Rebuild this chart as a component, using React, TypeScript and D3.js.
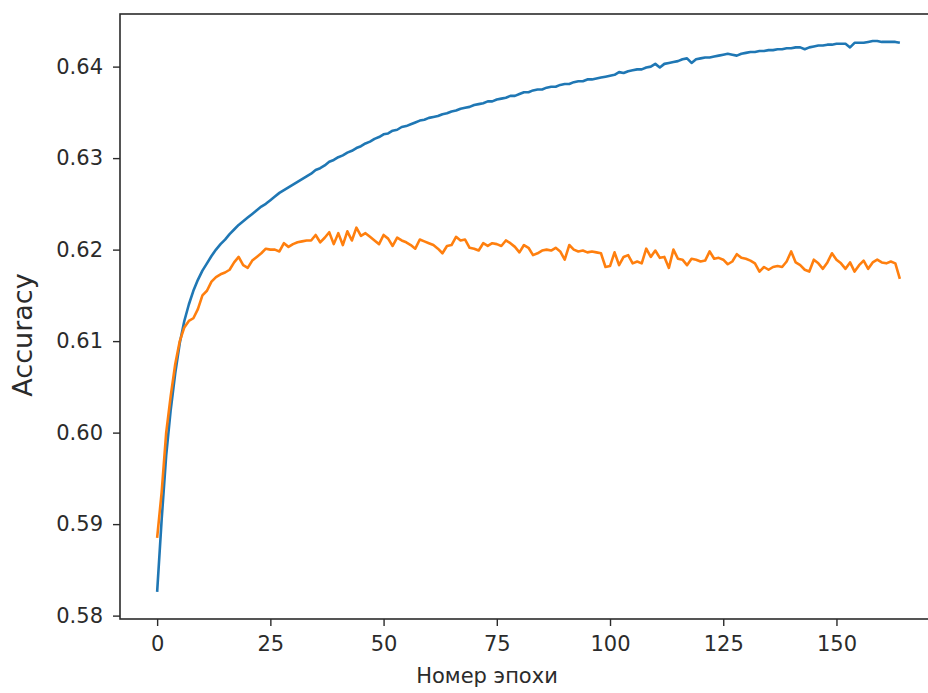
import React, { useEffect, useRef } from 'react';
import * as d3 from 'd3';

// accuracy per epoch (0..164)
const trainAcc = [
  0.5826, 0.5905, 0.5975, 0.6025, 0.6065, 0.6098, 0.6122, 0.6140, 0.6155, 0.6167,
  0.6177, 0.6185, 0.6193, 0.6200, 0.6206, 0.6211, 0.6217, 0.6222, 0.6227, 0.6231,
  0.6235, 0.6239, 0.6243, 0.6247, 0.6250, 0.6254, 0.6258, 0.6262, 0.6265, 0.6268,
  0.6271, 0.6274, 0.6277, 0.6280, 0.6283, 0.6287, 0.6289, 0.6292, 0.6296, 0.6298,
  0.6301, 0.6303, 0.6306, 0.6308, 0.6311, 0.6313, 0.6316, 0.6318, 0.6321, 0.6323,
  0.6326, 0.6327, 0.6330, 0.6331, 0.6334, 0.6335, 0.6337, 0.6339, 0.6341, 0.6342,
  0.6344, 0.6345, 0.6346, 0.6348, 0.6349, 0.6351, 0.6352, 0.6354, 0.6355, 0.6356,
  0.6358, 0.6359, 0.6360, 0.6362, 0.6362, 0.6364, 0.6365, 0.6366, 0.6368, 0.6368,
  0.6370, 0.6372, 0.6372, 0.6374, 0.6375, 0.6375, 0.6377, 0.6378, 0.6378, 0.6380,
  0.6381, 0.6381, 0.6383, 0.6384, 0.6384, 0.6386, 0.6386, 0.6387, 0.6388, 0.6389,
  0.6390, 0.6391, 0.6394, 0.6393, 0.6395, 0.6396, 0.6397, 0.6397, 0.6399, 0.6400,
  0.6403, 0.6399, 0.6403, 0.6404, 0.6405, 0.6406, 0.6408, 0.6409, 0.6404, 0.6408,
  0.6409, 0.6410, 0.6410, 0.6411, 0.6412, 0.6413, 0.6414, 0.6413, 0.6412, 0.6414,
  0.6415, 0.6416, 0.6416, 0.6417, 0.6417, 0.6418, 0.6418, 0.6419, 0.6419, 0.6420,
  0.6420, 0.6421, 0.6421, 0.6419, 0.6421, 0.6422, 0.6423, 0.6423, 0.6424, 0.6424,
  0.6425, 0.6425, 0.6425, 0.6421, 0.6426, 0.6426, 0.6426, 0.6427, 0.6428, 0.6428,
  0.6427, 0.6427, 0.6427, 0.6427, 0.6426
];

const valAcc = [
  0.5885, 0.5935, 0.6000, 0.6040, 0.6075, 0.6100, 0.6115, 0.6122, 0.6125, 0.6135,
  0.6150, 0.6155, 0.6165, 0.6170, 0.6173, 0.6175, 0.6178, 0.6186, 0.6192, 0.6183,
  0.6180, 0.6188, 0.6192, 0.6196, 0.6201, 0.6200, 0.6200, 0.6198, 0.6207, 0.6203,
  0.6206, 0.6208, 0.6209, 0.6210, 0.6210, 0.6216, 0.6208, 0.6213, 0.6219, 0.6206,
  0.6218, 0.6205, 0.6220, 0.6210, 0.6224, 0.6215, 0.6218, 0.6214, 0.6210, 0.6206,
  0.6216, 0.6212, 0.6204, 0.6213, 0.6210, 0.6208, 0.6205, 0.6201, 0.6211, 0.6209,
  0.6207, 0.6205, 0.6201, 0.6196, 0.6204, 0.6205, 0.6214, 0.6210, 0.6211, 0.6202,
  0.6201, 0.6199, 0.6207, 0.6204, 0.6207, 0.6206, 0.6204, 0.6210, 0.6207, 0.6203,
  0.6197, 0.6205, 0.6202, 0.6194, 0.6196, 0.6199, 0.6200, 0.6199, 0.6202, 0.6198,
  0.6189, 0.6205, 0.6200, 0.6198, 0.6199, 0.6197, 0.6198, 0.6197, 0.6196, 0.6181,
  0.6182, 0.6197, 0.6183, 0.6192, 0.6194, 0.6185, 0.6187, 0.6185, 0.6201, 0.6192,
  0.6199, 0.6191, 0.6192, 0.6180, 0.6200, 0.6190, 0.6189, 0.6183, 0.6190, 0.6189,
  0.6187, 0.6188, 0.6198, 0.6190, 0.6191, 0.6189, 0.6184, 0.6187, 0.6195, 0.6191,
  0.6190, 0.6188, 0.6185, 0.6176, 0.6181, 0.6178, 0.6181, 0.6182, 0.6181, 0.6187,
  0.6198, 0.6186, 0.6183, 0.6178, 0.6176, 0.6189, 0.6185, 0.6179, 0.6186, 0.6196,
  0.6189, 0.6185, 0.6179, 0.6186, 0.6176, 0.6183, 0.6188, 0.6179, 0.6186, 0.6189,
  0.6186, 0.6185, 0.6187, 0.6185, 0.6168
];

const xTicks = [0, 25, 50, 75, 100, 125, 150];
const yTicks = [0.58, 0.59, 0.6, 0.61, 0.62, 0.63, 0.64];

const W = 928;
const H = 693;
const font = '"DejaVu Sans", sans-serif';
const ink = '#2b2b2b';

const App = () => {
  const svgRef = useRef<SVGSVGElement>(null);

  useEffect(() => {
    const svg = d3.select(svgRef.current);
    svg.selectAll('*').remove();

    const left = 120, right = 937, top = 14, bottom = 619;

    const x = d3.scaleLinear().domain([-8.2, 172.2]).range([left, right]);
    const y = d3.scaleLinear().domain([0.57963, 0.64575]).range([bottom, top]);

    const line = d3.line<number>()
      .x((d, i) => x(i))
      .y(d => y(d));

    svg.append('path')
      .datum(trainAcc)
      .attr('d', line)
      .attr('fill', 'none')
      .attr('stroke', '#1f77b4')
      .attr('stroke-width', 2.6)
      .attr('stroke-linejoin', 'round');

    svg.append('path')
      .datum(valAcc)
      .attr('d', line)
      .attr('fill', 'none')
      .attr('stroke', '#ff7f0e')
      .attr('stroke-width', 2.6)
      .attr('stroke-linejoin', 'round');

    // frame
    svg.append('rect')
      .attr('x', left)
      .attr('y', top)
      .attr('width', right - left)
      .attr('height', bottom - top)
      .attr('fill', 'none')
      .attr('stroke', ink)
      .attr('stroke-width', 1.6);

    const xAxis = svg.append('g')
      .attr('transform', `translate(0,${bottom})`)
      .call(d3.axisBottom(x).tickValues(xTicks).tickSize(7).tickPadding(10).tickFormat(d3.format('d')));
    xAxis.select('.domain').remove();

    const yAxis = svg.append('g')
      .attr('transform', `translate(${left},0)`)
      .call(d3.axisLeft(y).tickValues(yTicks).tickSize(7).tickPadding(10).tickFormat(d3.format('.2f')));
    yAxis.select('.domain').remove();

    svg.selectAll('.tick line').attr('stroke', ink).attr('stroke-width', 1.4);
    svg.selectAll('.tick text')
      .attr('fill', ink)
      .style('font-family', font)
      .style('font-size', '21px');

    svg.append('text')
      .attr('transform', 'translate(32,335) rotate(-90)')
      .attr('text-anchor', 'middle')
      .attr('fill', ink)
      .style('font-family', font)
      .style('font-size', '27px')
      .text('Accuracy');

    svg.append('text')
      .attr('x', 487)
      .attr('y', 683)
      .attr('text-anchor', 'middle')
      .attr('fill', ink)
      .style('font-family', font)
      .style('font-size', '21px')
      .text('Номер эпохи');
  }, []);

  return (
    <svg
      ref={svgRef}
      width={W}
      height={H}
      style={{ position: 'absolute', left: 0, top: 0, background: '#fff' }}
    />
  );
};

export default App;
